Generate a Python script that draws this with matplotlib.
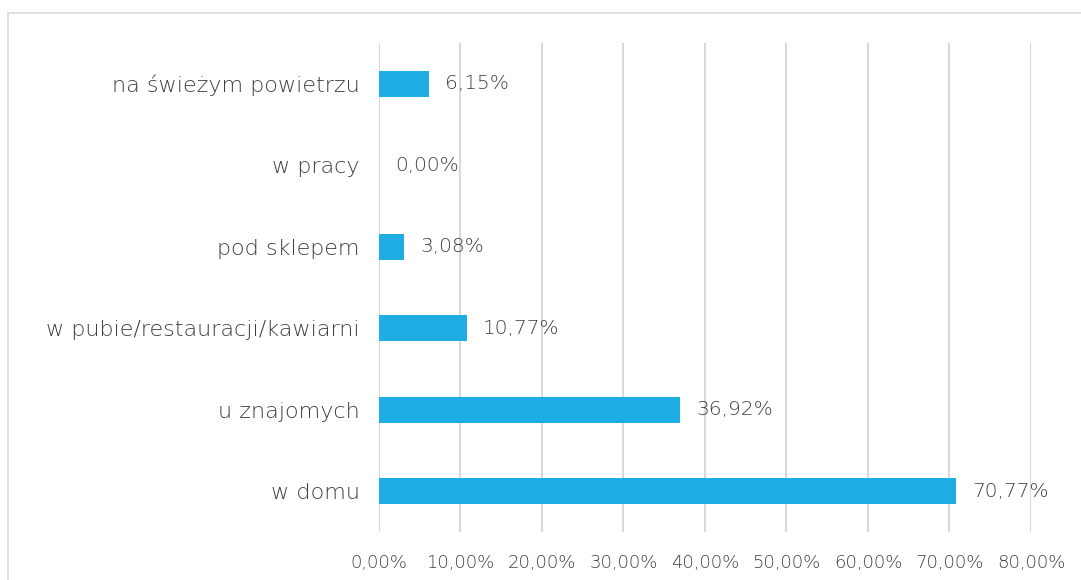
import matplotlib.pyplot as plt
from matplotlib.patches import Rectangle
from matplotlib.ticker import FuncFormatter

categories = ["w domu", "u znajomych", "w pubie/restauracji/kawiarni",
              "pod sklepem", "w pracy", "na świeżym powietrzu"]
values = [70.77, 36.92, 10.77, 3.08, 0.00, 6.15]
ticks = [0, 10, 20, 30, 40, 50, 60, 70, 80]

BAR_COLOR = "#1EADE3"
TEXT_COLOR = "#3F3F3F"


def pl_pct(v):
    return f"{v:.2f}".replace(".", ",") + "%"


def main():
    plt.rcParams["font.family"] = ["DejaVu Sans"]
    plt.rcParams["font.weight"] = "light"
    fig = plt.figure(figsize=(10.81, 5.8), dpi=100)
    ax = fig.add_axes([0.3506, 0.0828, 0.6031, 0.8431])

    # outer chart frame (right and bottom edges fall outside the picture)
    fig.patches.append(Rectangle((8 / 1081, -0.1), 1.2, 1 - 13 / 580 + 0.1,
                                 transform=fig.transFigure, fill=False,
                                 edgecolor="#D9D9D9", linewidth=1.2))

    y = list(range(len(categories)))
    bars = ax.barh(y, values, height=0.32, color=BAR_COLOR)

    for bar, v in zip(bars, values):
        ax.text(bar.get_width() + 2.0, bar.get_y() + bar.get_height() / 2,
                pl_pct(v), va="center", ha="left", fontsize=14.5,
                color=TEXT_COLOR)

    ax.set_xlim(0, 80)
    ax.set_ylim(-0.5, len(categories) - 0.5)
    ax.set_xticks(ticks)
    ax.xaxis.set_major_formatter(FuncFormatter(lambda v, p: pl_pct(v)))
    ax.set_yticks(y)
    ax.set_yticklabels(categories, fontsize=16)

    ax.grid(axis="x", color="#D9D9D9", linewidth=1.5)
    ax.set_axisbelow(True)
    for s in ax.spines.values():
        s.set_visible(False)
    ax.tick_params(length=0, labelcolor=TEXT_COLOR)
    ax.tick_params(axis="x", pad=16, labelsize=13)
    ax.tick_params(axis="y", pad=14)

    fig.savefig("out.png", dpi=100)


if __name__ == "__main__":
    main()
